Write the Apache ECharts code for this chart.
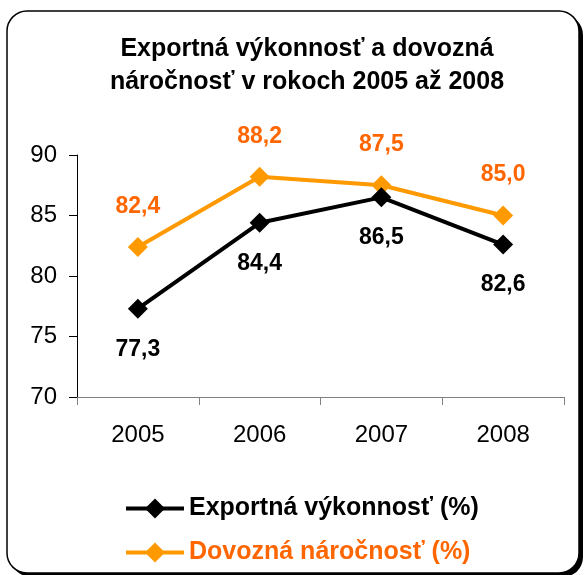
<!DOCTYPE html>
<html>
<head>
<meta charset="utf-8">
<script src="https://cdn.jsdelivr.net/npm/echarts@6/dist/echarts.min.js"></script>
<style>html,body{margin:0;padding:0;background:#fff}#c{width:584px;height:575px}</style>
</head>
<body>
<div id="c"></div>
<script>
const categories = ['2005', '2006', '2007', '2008'];
const exportValues = [77.3, 84.4, 86.5, 82.6];
const importValues = [82.4, 88.2, 87.5, 85.0];
const seriesNames = ['Exportná výkonnosť (%)', 'Dovozná náročnosť (%)'];
const yTicks = [70, 75, 80, 85, 90];

const FONT = '"Liberation Sans", Arial, sans-serif';
const chart = echarts.init(document.getElementById('c'), null, {renderer: 'canvas'});
const fmt = p => p.value.toFixed(1).replace('.', ',');

chart.setOption({
  animation: false,
  backgroundColor: '#fff',
  textStyle: {fontFamily: FONT},
  graphic: [
    {type: 'rect', z: -10, shape: {x: 11, y: 15, width: 572, height: 562, r: 20}, style: {fill: '#000'}},
    {type: 'rect', z: -9, shape: {x: 7, y: 11, width: 572, height: 562, r: 20}, style: {fill: '#fff', stroke: '#000', lineWidth: 1.5}}
  ],
  title: {
    text: 'Exportná výkonnosť a dovozná\nnáročnosť v rokoch 2005 až 2008',
    left: 302, top: 28, textAlign: 'center',
    textStyle: {fontFamily: FONT, fontWeight: 'bold', fontSize: 25, lineHeight: 33, color: '#000'}
  },
  grid: {left: 77, right: 20, top: 155, bottom: 178, containLabel: false},
  xAxis: {
    type: 'category', data: categories, boundaryGap: true,
    axisLine: {lineStyle: {color: '#808080', width: 1}},
    axisTick: {show: true, length: 8, lineStyle: {color: '#808080'}},
    axisLabel: {color: '#000', fontSize: 24, fontFamily: FONT, margin: 26}
  },
  yAxis: {
    type: 'value', min: yTicks[0], max: yTicks[yTicks.length - 1], interval: 5,
    splitLine: {show: false},
    axisLine: {show: true, lineStyle: {color: '#000', width: 1}},
    axisTick: {show: true, length: 8, lineStyle: {color: '#000'}},
    axisLabel: {color: '#000', fontSize: 24, fontFamily: FONT, margin: 20}
  },
  legend: {
    orient: 'vertical', left: 119, top: 491, itemGap: 19,
    itemWidth: 58, itemHeight: 25,
    lineStyle: {width: 4},
    data: [
      {name: seriesNames[0], textStyle: {color: '#000'}},
      {name: seriesNames[1], textStyle: {color: '#FF6600'}}
    ],
    textStyle: {fontFamily: FONT, fontWeight: 'bold', fontSize: 25}
  },
  series: [
    {
      name: seriesNames[0], type: 'line', data: exportValues,
      symbol: 'diamond', symbolSize: 20,
      lineStyle: {color: '#000', width: 4}, itemStyle: {color: '#000'},
      label: {show: true, position: 'bottom', distance: 19, formatter: fmt,
        color: '#000', fontWeight: 'bold', fontSize: 23, fontFamily: FONT},
      z: 3
    },
    {
      name: seriesNames[1], type: 'line', data: importValues,
      symbol: 'diamond', symbolSize: 20,
      lineStyle: {color: '#FF9900', width: 4}, itemStyle: {color: '#FF9900'},
      label: {show: true, position: 'top', distance: 19, formatter: fmt,
        color: '#FF6600', fontWeight: 'bold', fontSize: 23, fontFamily: FONT},
      z: 2
    }
  ]
});
</script>
</body>
</html>
